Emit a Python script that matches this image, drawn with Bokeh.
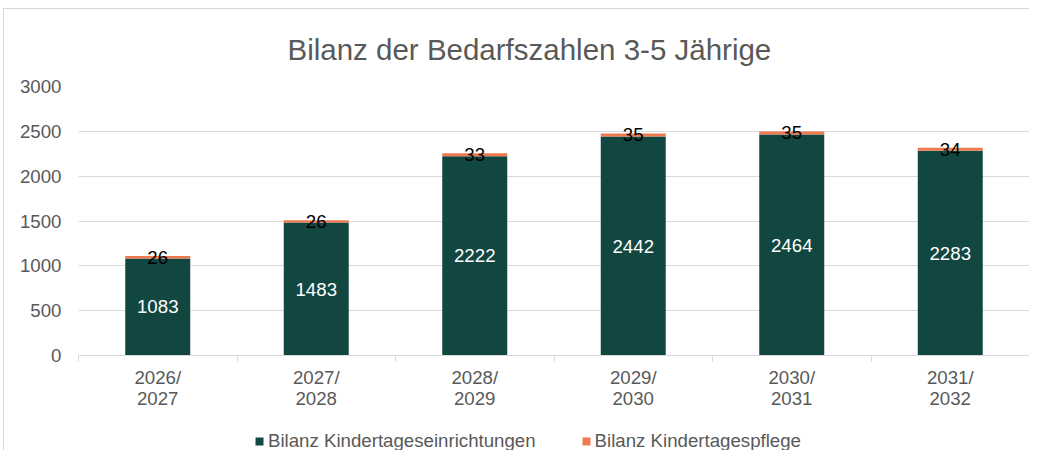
from bokeh.plotting import figure
from bokeh.layouts import column
from bokeh.models import (ColumnDataSource, Range1d, FixedTicker, Legend, LegendItem)
from bokeh.core.properties import value
from bokeh.embed import file_html
from bokeh.resources import INLINE

categories = ["2026/\n2027", "2027/\n2028", "2028/\n2029", "2029/\n2030", "2030/\n2031", "2031/\n2032"]
kitas = [1083, 1483, 2222, 2442, 2464, 2283]
pflege = [26, 26, 33, 35, 35, 34]
series_names = ["Bilanz Kindertageseinrichtungen", "Bilanz Kindertagespflege"]
y_ticks = [0, 500, 1000, 1500, 2000, 2500, 3000]

GREEN = "#124741"
ORANGE = "#F07A50"
GRAY = "#595959"
GRID = "#D9D9D9"
FONT = "Liberation Sans"
FS = "18.67px"

n = len(categories)
xs = [i + 0.5 for i in range(n)]
src = ColumnDataSource(dict(
    x=xs,
    top1=kitas,
    bottom2=kitas,
    top2=[a + b for a, b in zip(kitas, pflege)],
    kmid=[a / 2 for a in kitas],
    pmid=[a + b / 2 for a, b in zip(kitas, pflege)],
    klab=[str(v) for v in kitas],
    plab=[str(v) for v in pflege],
))

p = figure(width=1025, height=402, output_backend="svg", toolbar_location=None,
           x_range=Range1d(0, n), y_range=Range1d(0, 3000),
           min_border_left=74, min_border_right=0, min_border_top=77, min_border_bottom=56)
p.outline_line_color = None
p.background_fill_color = "white"
p.border_fill_color = "white"

p.title.text = "Bilanz der Bedarfszahlen 3-5 Jährige"
p.title.align = "left"
p.title.text_font = FONT
p.title.text_font_size = "29.5px"
p.title.text_font_style = "normal"
p.title.text_color = GRAY
p.title.offset = 209
p.title.standoff = 41

p.vbar(x="x", width=0.41, bottom=0, top="top1", source=src, fill_color=GREEN, line_color=None)
p.vbar(x="x", width=0.41, bottom="bottom2", top="top2", source=src, fill_color=ORANGE, line_color=None)

p.text(x="x", y="kmid", text="klab", source=src, text_color="white", text_font=value(FONT),
       text_font_size=FS, text_align="center", text_baseline="middle")
p.text(x="x", y="pmid", text="plab", source=src, text_color="black", text_font=value(FONT),
       text_font_size=FS, text_align="center", text_baseline="middle")

p.yaxis.ticker = FixedTicker(ticks=y_ticks)
p.yaxis.axis_line_color = None
p.yaxis.major_tick_line_color = None
p.yaxis.minor_tick_line_color = None
p.yaxis.major_tick_out = 0
p.yaxis.minor_tick_out = 0
p.yaxis.major_label_text_font = FONT
p.yaxis.major_label_text_font_size = FS
p.yaxis.major_label_text_color = GRAY
p.yaxis.major_label_standoff = 17

p.xaxis.ticker = FixedTicker(ticks=xs, minor_ticks=list(range(n + 1)))
p.xaxis.major_label_overrides = {x: c for x, c in zip(xs, categories)}
p.xaxis.axis_line_color = GRID
p.xaxis.major_tick_line_color = None
p.xaxis.major_tick_out = 0
p.xaxis.minor_tick_line_color = GRID
p.xaxis.minor_tick_out = 6
p.xaxis.minor_tick_in = 0
p.xaxis.major_label_text_font = FONT
p.xaxis.major_label_text_font_size = FS
p.xaxis.major_label_text_line_height = 1.0
p.xaxis.major_label_text_color = GRAY
p.xaxis.major_label_standoff = 5

p.xgrid.grid_line_color = None
p.ygrid.grid_line_color = GRID
p.ygrid.ticker = FixedTicker(ticks=y_ticks)

# legend strip (separate figure, so the legend is not clipped by the main frame);
# its renderers use the same series but lie outside this strip's visible ranges
p2 = figure(width=1025, height=39, output_backend="svg", toolbar_location=None,
            x_range=Range1d(-2, -1), y_range=Range1d(0, 1),
            x_axis_location=None, y_axis_location=None,
            min_border_left=0, min_border_right=0, min_border_top=0, min_border_bottom=0)
p2.grid.visible = False
p2.outline_line_color = None
p2.background_fill_color = "white"
p2.border_fill_color = "white"
d1 = p2.vbar(x="x", width=0.41, bottom=0, top="top1", source=src, fill_color=GREEN, line_color=None)
d2 = p2.vbar(x="x", width=0.41, bottom="bottom2", top="top2", source=src, fill_color=ORANGE, line_color=None)

legend = Legend(items=[LegendItem(label=series_names[0], renderers=[d1]),
                       LegendItem(label=series_names[1], renderers=[d2])],
                orientation="horizontal", location=(176, -2),
                label_text_font=FONT, label_text_font_size=FS, label_text_color=GRAY,
                glyph_width=10, glyph_height=10, label_standoff=4, spacing=45,
                border_line_color=None, background_fill_alpha=0, margin=0, padding=0)
p2.add_layout(legend, "center")

layout = column(p, p2, spacing=0)
layout.styles = {"border-left": "1px solid #d6d6d6", "border-top": "1px solid #d6d6d6",
                 "margin-left": "3px", "margin-top": "8px"}

open("out.html", "w").write(file_html(layout, INLINE))
